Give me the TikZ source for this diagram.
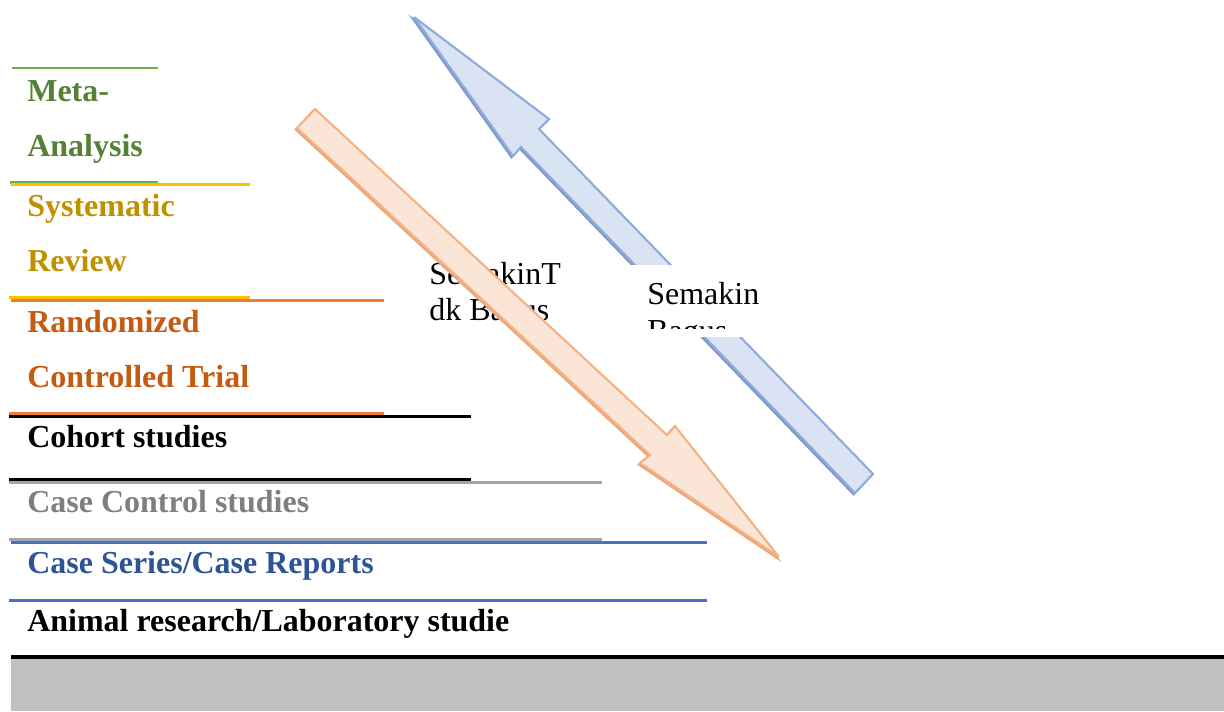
\documentclass[tikz,border=0pt]{standalone}
\usepackage{fontspec}
\setmainfont{Liberation Serif}
\tikzset{>=latex}
\definecolor{mgreen}{HTML}{548235}
\definecolor{lgreen}{HTML}{70AD47}
\definecolor{myellow}{HTML}{BF9000}
\definecolor{lyellow}{HTML}{FFC000}
\definecolor{morange}{HTML}{C55A11}
\definecolor{lorange}{HTML}{ED7D31}
\definecolor{mgray}{HTML}{7F7F7F}
\definecolor{lgray}{HTML}{A5A5A5}
\definecolor{mblue}{HTML}{2F5496}
\definecolor{lblue}{HTML}{4472C4}
\definecolor{barfill}{HTML}{C0C0C0}
\definecolor{upfill}{HTML}{DAE3F3}
\definecolor{upline}{HTML}{8FAADC}
\definecolor{downfill}{HTML}{FBE5D6}
\definecolor{downline}{HTML}{F4B183}
\tikzset{
  lvl/.style={anchor=base west,inner sep=0pt,font=\bfseries\fontsize{18.2}{21}\selectfont},
  note/.style={anchor=base west,inner sep=0pt,font=\fontsize{18.2}{21}\selectfont},
  rule/.style={line width=1.7pt},
}

\begin{document}
\begin{tikzpicture}[x=0.02cm,y=-0.02cm]
  \useasboundingbox (0,0) rectangle (1224,711);
  % level lines
  \draw[rule,lgreen] (12,68) -- (158,68);
  \draw[rule,lgreen] (10,182) -- (158,182);
  \draw[rule,lyellow] (11,184) -- (250,184);
  \draw[rule,lyellow] (9,297) -- (250,297);
  \draw[rule,lorange] (11,300) -- (384,300);
  \draw[rule,lorange] (9,413) -- (384,413);
  \draw[rule] (9,416) -- (471,416);
  \draw[rule] (9,479) -- (471,479);
  \draw[rule,lgray] (9,482) -- (602,482);
  \draw[rule,lgray] (9,539) -- (602,539);
  \draw[rule,lblue] (11,542) -- (707,542);
  \draw[rule,lblue] (9,600) -- (707,600);
  % levels
  \node[lvl,mgreen] (meta1) at (27,101) {Meta-};
  \node[lvl,mgreen] (meta2) at (27,156) {Analysis};
  \node[lvl,myellow] (sys1) at (27,216) {Systematic};
  \node[lvl,myellow] (sys2) at (27,271) {Review};
  \node[lvl,morange] (rct1) at (27,332) {Randomized};
  \node[lvl,morange] (rct2) at (27,387) {Controlled Trial};
  \node[lvl] (cohort) at (27,447) {Cohort studies};
  \node[lvl,mgray] (casectl) at (27,512) {Case Control studies};
  \node[lvl,mblue] (series) at (27,573) {Case Series/Case Reports};
  \node[lvl] (animal) at (27,631) {Animal research/Laboratory studie};
  % bottom bar
  \fill[barfill] (11,659) rectangle (1224,711);
  \draw[line width=2.3pt] (11,657) -- (1224,657);
  % up arrow
  \filldraw[upline!90!black,line width=1pt,shift={(-1.5,1.5)}] (414,17) -- (549,119) -- (539,129) -- (873,474)
    -- (855,493) -- (521,147) -- (513,156) -- cycle;
  \filldraw[fill=upfill,draw=upline,line width=1.2pt,miter limit=4] (414,17) -- (549,119) -- (539,129) -- (873,474)
    -- (855,493) -- (521,147) -- (513,156) -- cycle;
  \fill[white] (630,265) rectangle (770,337);
  \begin{scope}
    \clip (630,265) rectangle (770,328);
    \node[note] (better1) at (647,304) {Semakin};
    \node[note] (better2) at (647,341) {Bagus};
  \end{scope}
  % down arrow
  \node[note] (worse1) at (429,284) {SemakinT};
  \node[note] (worse2) at (429,320) {dk Bagus};
  \filldraw[downline!95!black,line width=1pt,shift={(-1.5,1.5)}] (297,128) -- (315,109) -- (667,435) -- (675,426)
    -- (779,557) -- (640,463) -- (650,455) -- cycle;
  \filldraw[fill=downfill,draw=downline,line width=1.2pt,miter limit=4] (297,128) -- (315,109) -- (667,435) -- (675,426)
    -- (779,557) -- (640,463) -- (650,455) -- cycle;
\end{tikzpicture}
\end{document}
